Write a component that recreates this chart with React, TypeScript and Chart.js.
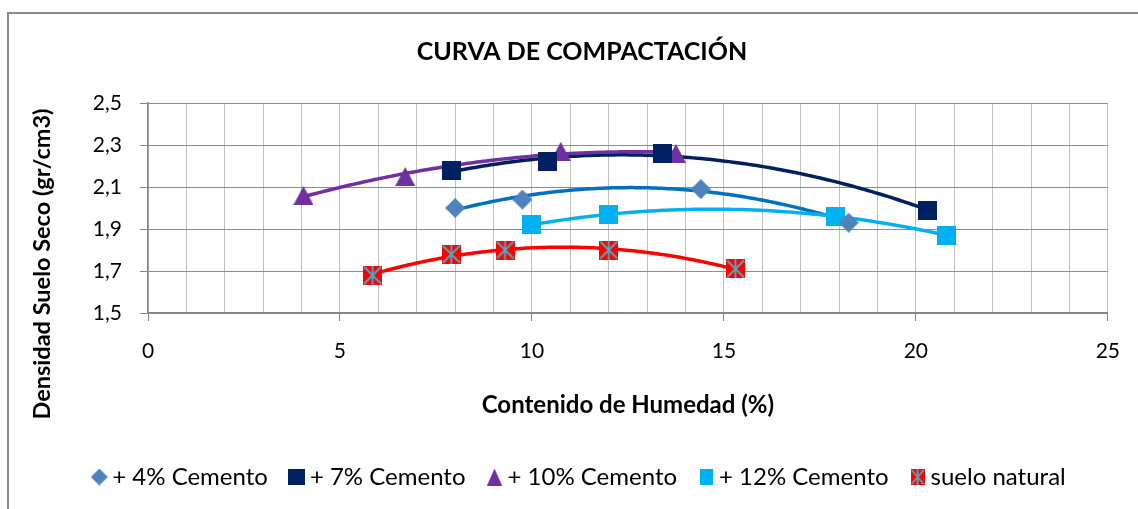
import React, { useEffect, useRef } from 'react';
import { Chart, registerables } from 'chart.js';

Chart.register(...registerables);

// ---------- data ----------
const seriesNames = ['+ 4% Cemento', '+ 7% Cemento', '+ 10% Cemento', '+ 12% Cemento', 'suelo natural'];

const humedad4 = [8.0, 9.75, 14.4, 18.25];
const densidad4 = [2.0, 2.04, 2.09, 1.93];

const humedad7 = [7.9, 10.4, 13.4, 20.3];
const densidad7 = [2.18, 2.22, 2.26, 1.99];

const humedad10 = [4.05, 6.7, 10.75, 13.75];
const densidad10 = [2.06, 2.15, 2.27, 2.26];

const humedad12 = [10.0, 12.0, 17.9, 20.8];
const densidad12 = [1.92, 1.97, 1.96, 1.87];

const humedadNatural = [5.85, 7.9, 9.3, 12.0, 15.3];
const densidadNatural = [1.68, 1.78, 1.8, 1.8, 1.71];

const xTickLabels = [0, 5, 10, 15, 20, 25];
const yTickLabels = [1.5, 1.7, 1.9, 2.1, 2.3, 2.5];

const chartTitle = 'CURVA DE COMPACTACIÓN';
const xTitle = 'Contenido de Humedad (%)';
const yTitle = 'Densidad Suelo Seco (gr/cm3)';

// ---------- styles ----------
const trendColors = ['#0070C0', '#002060', '#7030A0', '#00B0F0', '#FF0000'];
const FONT = 'Lato';

function makeMarker(kind: string, w: number, h: number): HTMLCanvasElement {
  const c = document.createElement('canvas');
  c.width = w;
  c.height = h;
  const g = c.getContext('2d')!;
  if (kind === 'diamond') {
    g.fillStyle = '#4F81BD';
    g.beginPath();
    g.moveTo(w / 2, 0);
    g.lineTo(w, h / 2);
    g.lineTo(w / 2, h);
    g.lineTo(0, h / 2);
    g.closePath();
    g.fill();
  } else if (kind === 'navy') {
    g.fillStyle = '#002060';
    g.fillRect(0, 0, w, h);
  } else if (kind === 'triangle') {
    g.fillStyle = '#7030A0';
    g.beginPath();
    g.moveTo(w / 2, 0);
    g.lineTo(w, h);
    g.lineTo(0, h);
    g.closePath();
    g.fill();
  } else if (kind === 'cyan') {
    g.fillStyle = '#00B0F0';
    g.fillRect(0, 0, w, h);
  } else if (kind === 'star') {
    g.fillStyle = '#FF0000';
    g.fillRect(0, 0, w, h);
    g.strokeStyle = '#4BACC6';
    g.lineWidth = 1.8;
    g.beginPath();
    g.moveTo(1, 1);
    g.lineTo(w - 1, h - 1);
    g.moveTo(w - 1, 1);
    g.lineTo(1, h - 1);
    g.moveTo(w / 2, 0);
    g.lineTo(w / 2, h);
    g.stroke();
  }
  return c;
}

function quadFit(xs: number[], ys: number[]): [number, number, number] {
  // least squares y = a + b x + c x^2 (polynomial trend line, order 2)
  let s0 = 0, s1 = 0, s2 = 0, s3 = 0, s4 = 0, t0 = 0, t1 = 0, t2 = 0;
  for (let i = 0; i < xs.length; i++) {
    const x = xs[i], y = ys[i];
    s0 += 1; s1 += x; s2 += x * x; s3 += x * x * x; s4 += x * x * x * x;
    t0 += y; t1 += x * y; t2 += x * x * y;
  }
  const M = [
    [s0, s1, s2, t0],
    [s1, s2, s3, t1],
    [s2, s3, s4, t2],
  ];
  for (let i = 0; i < 3; i++) {
    let p = i;
    for (let r = i + 1; r < 3; r++) if (Math.abs(M[r][i]) > Math.abs(M[p][i])) p = r;
    [M[i], M[p]] = [M[p], M[i]];
    for (let r = 0; r < 3; r++) {
      if (r === i) continue;
      const f = M[r][i] / M[i][i];
      for (let k = i; k < 4; k++) M[r][k] -= f * M[i][k];
    }
  }
  return [M[0][3] / M[0][0], M[1][3] / M[1][1], M[2][3] / M[2][2]];
}

const trendPlugin = {
  id: 'trendlines',
  beforeDatasetsDraw(chart: any) {
    const { ctx, chartArea, scales } = chart;
    const xs = scales.x, ys = scales.y;
    ctx.save();
    ctx.beginPath();
    ctx.rect(chartArea.left, chartArea.top, chartArea.right - chartArea.left, chartArea.bottom - chartArea.top);
    ctx.clip();
    chart.data.datasets.forEach((ds: any, i: number) => {
      const px = ds.data.map((p: any) => p.x);
      const py = ds.data.map((p: any) => p.y);
      const [a, b, c] = quadFit(px, py);
      const lo = Math.min(...px), hi = Math.max(...px);
      ctx.beginPath();
      const n = 120;
      for (let k = 0; k <= n; k++) {
        const xv = lo + ((hi - lo) * k) / n;
        const yv = a + b * xv + c * xv * xv;
        const X = xs.getPixelForValue(xv), Y = ys.getPixelForValue(yv);
        if (k === 0) ctx.moveTo(X, Y); else ctx.lineTo(X, Y);
      }
      ctx.strokeStyle = trendColors[i];
      ctx.lineWidth = 3.5;
      ctx.lineJoin = 'round';
      ctx.lineCap = 'round';
      ctx.stroke();
    });
    ctx.restore();
  },
};

const framePlugin = {
  id: 'frame',
  beforeDraw(chart: any) {
    const { ctx, width, height } = chart;
    ctx.save();
    ctx.fillStyle = '#ffffff';
    ctx.fillRect(0, 0, width, height);
    ctx.strokeStyle = '#8c8c8c';
    ctx.lineWidth = 2;
    ctx.beginPath();
    ctx.moveTo(8, height + 2);
    ctx.lineTo(8, 13);
    ctx.lineTo(width + 2, 13);
    ctx.stroke();
    ctx.restore();
  },
  afterDraw(chart: any) {
    const { ctx } = chart;
    ctx.save();
    ctx.translate(50, 264);
    ctx.rotate(-Math.PI / 2);
    ctx.font = `bold 23.5px ${FONT}`;
    ctx.fillStyle = '#000';
    ctx.textAlign = 'center';
    ctx.textBaseline = 'alphabetic';
    ctx.fillText(yTitle, 0, 0);
    ctx.restore();
  },
};

export default function App() {
  const ref = useRef<HTMLCanvasElement | null>(null);

  useEffect(() => {
    if (!ref.current) return;
    Chart.defaults.font.family = FONT;

    const pointMarkers = [
      makeMarker('diamond', 20, 20),
      makeMarker('navy', 19, 19),
      makeMarker('triangle', 20, 19),
      makeMarker('cyan', 19, 19),
      makeMarker('star', 19, 19),
    ];
    const legendMarkers = [
      makeMarker('diamond', 17, 17),
      makeMarker('navy', 17, 16),
      makeMarker('triangle', 15, 17),
      makeMarker('cyan', 13, 16),
      makeMarker('star', 14, 16),
    ];

    const xsAll = [humedad4, humedad7, humedad10, humedad12, humedadNatural];
    const ysAll = [densidad4, densidad7, densidad10, densidad12, densidadNatural];

    const datasets = seriesNames.map((name, i) => ({
      label: name,
      data: xsAll[i].map((x, k) => ({ x, y: ysAll[i][k] })),
      showLine: false,
      pointStyle: pointMarkers[i],
      pointRadius: 10,
      backgroundColor: trendColors[i],
      borderColor: trendColors[i],
    }));

    const chart = new Chart(ref.current, {
      type: 'scatter',
      data: { datasets },
      plugins: [framePlugin, trendPlugin],
      options: {
        responsive: false,
        animation: false,
        events: [],
        layout: { padding: { left: 54, right: 28, top: 0, bottom: 10 } },
        plugins: {
          tooltip: { enabled: false },
          title: {
            display: true,
            text: chartTitle,
            color: '#000',
            font: { family: FONT, size: 25, weight: 'bold' },
            padding: { top: 37, bottom: 36 },
          },
          legend: {
            display: true,
            position: 'bottom',
            labels: {
              usePointStyle: true,
              boxWidth: 2,
              padding: 28,
              color: '#000',
              font: { family: FONT, size: 24 },
              generateLabels: (c: any) =>
                c.data.datasets.map((ds: any, i: number) => ({
                  text: ds.label,
                  pointStyle: legendMarkers[i],
                  fillStyle: 'rgba(0,0,0,0)',
                  strokeStyle: 'rgba(0,0,0,0)',
                  lineWidth: 0,
                  hidden: false,
                  datasetIndex: i,
                  fontColor: '#000',
                })),
            },
          },
        },
        scales: {
          x: {
            type: 'linear',
            min: xTickLabels[0],
            max: xTickLabels[xTickLabels.length - 1],
            ticks: {
              stepSize: 1,
              autoSkip: false,
              maxRotation: 0,
              padding: 18,
              color: '#000',
              font: { family: FONT, size: 21 },
              callback: (v: any) => (xTickLabels.includes(Number(v)) ? String(v) : ''),
            },
            grid: {
              color: '#BFBFBF',
              lineWidth: 1,
              tickLength: 8,
              tickColor: (c: any) =>
                c.tick && xTickLabels.includes(Number(c.tick.value)) ? '#868686' : 'rgba(0,0,0,0)',
            },
            border: { color: '#868686', width: 1.5 },
            title: {
              display: true,
              text: xTitle,
              color: '#000',
              font: { family: FONT, size: 24, weight: 'bold' },
              padding: { top: 0, bottom: 17 },
            },
            afterFit: (s: any) => {
              s.height = 124;
            },
          },
          y: {
            type: 'linear',
            min: yTickLabels[0],
            max: yTickLabels[yTickLabels.length - 1],
            ticks: {
              stepSize: 0.2,
              padding: 18,
              color: '#000',
              font: { family: FONT, size: 21 },
              callback: (v: any) => Number(v).toFixed(1).replace('.', ','),
            },
            grid: {
              color: '#8C8C8C',
              lineWidth: 1,
              tickLength: 8,
              tickColor: '#868686',
            },
            border: { color: '#868686', width: 1.5 },
            afterFit: (s: any) => {
              s.width = 94;
            },
          },
        },
      } as any,
    });

    return () => chart.destroy();
  }, []);

  return (
    <div style={{ position: 'absolute', left: 0, top: 0, width: 1138, height: 509, overflow: 'hidden', background: '#fff' }}>
      <canvas ref={ref} width={1138} height={509} style={{ display: 'block', width: 1138, height: 509 }} />
    </div>
  );
}
